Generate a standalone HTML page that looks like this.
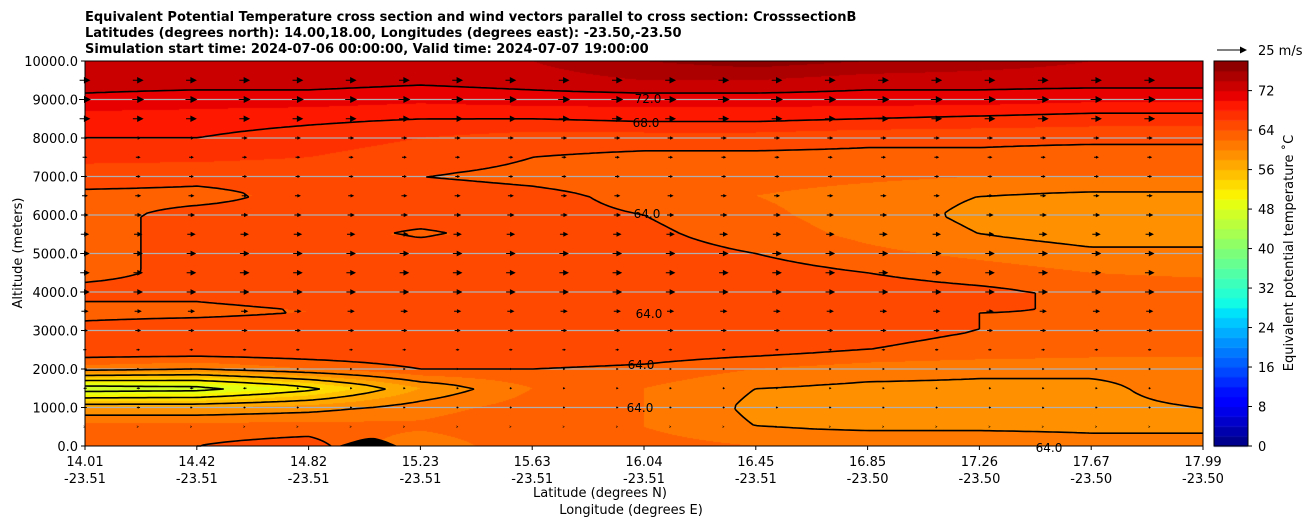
<!DOCTYPE html>
<html><head><meta charset="utf-8">
<style>
body{margin:0;background:#fff;width:1308px;height:526px;overflow:hidden;font-family:"DejaVu Sans","Liberation Sans",sans-serif;}
#wrap{position:relative;width:1308px;height:526px;}
canvas{position:absolute;left:0;top:0;}
svg{position:absolute;left:0;top:0;}
</style></head>
<body>
<div id="wrap">
<canvas id="cv" width="1308" height="526"></canvas>
<svg id="sv" width="1308" height="526"></svg>
</div>
<script>
// ---- data ----
const lats = [14.0,14.4,14.8,15.2,15.6,16.0,16.4,16.8,17.2,17.6,18.0];
const alts = [10000,9500,9000,8500,8000,7500,7000,6500,6000,5500,5000,4500,4000,3500,3000,2500,2000,1500,1000,500,0];
const theta = [
[72,72,73,74,74,76,77,76,75,74,74],
[73,73,73,72.5,73,74,74,73,73,73,73],
[71.5,71,71,70.5,71,71,71,71,71,70.5,70.5],
[69,69,68.5,68,68,68.5,68.5,68,67.5,67,67],
[68,68,67,66,65,65,65,64.5,64.5,64.5,64.5],
[66.5,66.5,66,65,64,63.5,63.5,63.5,63.5,63,63],
[65,64.5,64.5,64,63.5,63,63,62.5,62,62,62],
[63.5,63.5,64.5,65,64.5,63.5,62,61,60,59.5,59.5],
[63.5,64.5,64.5,64.5,64.5,64,62.5,61,59.5,59,59],
[63.5,64.5,64.5,63.8,64.5,64.5,63,61.5,60,59,59],
[63.5,64.5,65,65,65,65,64,62.5,61.5,60.5,60.5],
[63.5,64.5,65,65,65.5,65.5,65,64,63,62,61.5],
[64.5,64.5,65,65,66,66,65.5,65,64.5,63.5,63.5],
[63.5,63.5,64,64,64,64.5,64.5,64,64,64,64],
[64.5,65,65,65,65,65,65,64.5,64,63.5,63.5],
[66,66,66,66,66,65.5,65,64,63.5,63,63],
[61,60,62,64,64,63.5,62,61,60.5,60.5,60.5],
[46,46.5,51,58,62,62,60,59.5,59.5,59.5,61],
[58,58,59,61,63,62,59.5,59.5,59.5,59.5,60],
[63,63,63,62.5,64,62,60,59.5,59.5,59.5,59.5],
[63,64,65,60,64,63,62,62,62,61,61]];
const contourLevels = [48,52,56,60,64,68,72];
const windAlts = [9500,9000,8500,8000,7500,7000,6500,6000,5500,5000,4500,4000,3500,3000,2500,2000,1500,1000,500];
const windSpeed = [9,10,9,5,4,4,5,6,7,8,8,8,6,5,3,2,2,2,1];
const reversedWind = [[1500,14.01],[1500,14.2],[1500,14.4],[1500,14.6],[2000,14.01],[1000,14.01],[1000,14.2]];
const xTickLat = ["14.01","14.42","14.82","15.23","15.63","16.04","16.45","16.85","17.26","17.67","17.99"];
const xTickLon = ["-23.51","-23.51","-23.51","-23.51","-23.51","-23.51","-23.51","-23.50","-23.50","-23.50","-23.50"];
const yTicks = [0,1000,2000,3000,4000,5000,6000,7000,8000,9000,10000];
const cbTicks = [0,8,16,24,32,40,48,56,64,72];

// ---- geometry ----
const X0=85,X1=1203,Y0=61,Y1=446, LAT0=14.0, LAT1=18.0, VMAX=78;
const xs = la => X0 + (la-LAT0)/(LAT1-LAT0)*(X1-X0);
const ys = a => Y1 - a/10000*(Y1-Y0);
const CB={x:1214,w:34};
const cbY = v => Y1 - v/VMAX*(Y1-Y0);

function seg(pts,t){for(let i=0;i<pts.length-1;i++){const a=pts[i],b=pts[i+1];if(t<=b[0]){return a[1]+(b[1]-a[1])*(t-a[0])/(b[0]-a[0]);}}return pts[pts.length-1][1];}
const JR=[[0,0],[0.35,0],[0.66,1],[0.89,1],[1,0.5]];
const JG=[[0,0],[0.125,0],[0.375,1],[0.64,1],[0.91,0],[1,0]];
const JB=[[0,0.5],[0.11,1],[0.34,1],[0.65,0],[1,0]];
function jet(t){return [Math.round(seg(JR,t)*255),Math.round(seg(JG,t)*255),Math.round(seg(JB,t)*255)];}
function binColor(v){let k=Math.floor(v/2);k=Math.max(0,Math.min(38,k));return jet((k+0.5)/39);}
function field(px,py){
 const fx=(px-X0)/(X1-X0)*(lats.length-1);
 const fy=(Y1-py)/(Y1-Y0)*(alts.length-1);
 let i=Math.max(0,Math.min(lats.length-2,Math.floor(fx)));
 let jb=Math.max(0,Math.min(alts.length-2,Math.floor(fy)));
 const tx=Math.max(0,Math.min(1,fx-i)), ty=Math.max(0,Math.min(1,fy-jb));
 const r0=alts.length-1-jb, r1=r0-1;
 const a=theta[r0][i]*(1-tx)+theta[r0][i+1]*tx;
 const b=theta[r1][i]*(1-tx)+theta[r1][i+1]*tx;
 return a*(1-ty)+b*ty;
}
// ---- fill ----
const ctx=document.getElementById('cv').getContext('2d');
const W=X1-X0,H=Y1-Y0;
const img=ctx.createImageData(W,H);
for(let y=0;y<H;y++)for(let x=0;x<W;x++){
 const c=binColor(field(X0+x+0.5,Y0+y+0.5));const o=(y*W+x)*4;
 img.data[o]=c[0];img.data[o+1]=c[1];img.data[o+2]=c[2];img.data[o+3]=255;}
ctx.putImageData(img,X0,Y0);
for(let k=0;k<39;k++){const c=jet((k+0.5)/39);ctx.fillStyle=`rgb(${c})`;
 const yt=cbY(Math.min(VMAX,(k+1)*2)),yb=cbY(k*2);ctx.fillRect(CB.x,yt,CB.w,yb-yt+0.5);}

// ---- svg overlay ----
const NS='http://www.w3.org/2000/svg', sv=document.getElementById('sv');
function mk(tag,attrs,parent){const e=document.createElementNS(NS,tag);for(const k in attrs)e.setAttribute(k,attrs[k]);(parent||sv).appendChild(e);return e;}
const grid=mk('g',{});


yTicks.forEach(a=>{if(a>0&&a<10000)mk('line',{x1:X0,x2:X1,y1:ys(a),y2:ys(a),stroke:'#b0b0b0','stroke-width':1.2},grid);});
const terr=mk('path',{d:`M338,446 C355,441 365,437 375,438 C385,440 392,444 398,446 Z`,fill:'#000'});


const cg=mk('g',{fill:'none',stroke:'#000','stroke-width':1.6});


const S=4,nx=Math.ceil(W/S)+1,ny=Math.ceil(H/S)+1,F=[];
for(let j=0;j<ny;j++){F.push([]);for(let i=0;i<nx;i++)F[j].push(field(X0+Math.min(W,i*S),Y0+Math.min(H,j*S)));}
contourLevels.forEach(L=>{let d='';
 for(let j=0;j<ny-1;j++)for(let i=0;i<nx-1;i++){
  const v=[F[j][i],F[j][i+1],F[j+1][i+1],F[j+1][i]];
  const p=[[i,j],[i+1,j],[i+1,j+1],[i,j+1]];const pts=[];
  for(let e=0;e<4;e++){const a=v[e],b=v[(e+1)%4];
   if((a<L)!==(b<L)){const t=(L-a)/(b-a);const pa=p[e],pb=p[(e+1)%4];
    pts.push([X0+Math.min(W,(pa[0]+(pb[0]-pa[0])*t)*S),Y0+Math.min(H,(pa[1]+(pb[1]-pa[1])*t)*S)]);}}
  if(pts.length>=2)d+=`M${pts[0][0].toFixed(1)},${pts[0][1].toFixed(1)}L${pts[1][0].toFixed(1)},${pts[1][1].toFixed(1)}`;
  if(pts.length===4)d+=`M${pts[2][0].toFixed(1)},${pts[2][1].toFixed(1)}L${pts[3][0].toFixed(1)},${pts[3][1].toFixed(1)}`;
 }
 const path=mk('path',{d:d},cg);
 
 
});
const ag=mk('g',{fill:'#000'});


const pxPerMs=30/25;
function arrow(x,y,u,parent){
 const len=Math.abs(u)*pxPerMs, s=Math.sign(u)||1;
 const hl=Math.min(7,Math.max(2,len*0.6)), hw=Math.min(3.5,Math.max(1.2,len*0.3));
 const tip=x+s*len/2, tail=x-s*len/2, hb=tip-s*hl;
 return mk('path',{d:`M${tail},${y-0.5}L${hb},${y-0.5}L${hb},${y-hw}L${tip},${y}L${hb},${y+hw}L${hb},${y+0.5}L${tail},${y+0.5}Z`},parent);
}
windAlts.forEach((a,ri)=>{
 for(let k=0;k<=20;k++){
  const x=X0+k*(W/21);
  let u=windSpeed[ri];
  if(reversedWind.some(r=>r[0]===a&&Math.abs(r[1]-(LAT0+(x-X0)/W*4))<0.12))u=-u*1.5;
  if(k===0&&a<=2000&&a>=1000)u=-3;
  const el=arrow(x,ys(a),u,ag);
  
  
 }
});
const fr=mk('rect',{x:X0,y:Y0,width:W,height:H,fill:'none',stroke:'#000','stroke-width':1});


const cbf=mk('rect',{x:CB.x,y:Y0,width:CB.w,height:H,fill:'none',stroke:'#000','stroke-width':1});


function txt(s,x,y,attrs,name){const t=mk('text',Object.assign({x:x,y:y,'font-size':13,fill:'#000','font-family':'DejaVu Sans, Liberation Sans, sans-serif'},attrs||{}));t.textContent=s;
 
 return t;}
yTicks.forEach(a=>{mk('line',{x1:X0-4,x2:X0,y1:ys(a),y2:ys(a),stroke:'#000'});
 txt(a.toFixed(1),X0-7,ys(a)+5,{'text-anchor':'end'},'y-tick-label');});
xTickLat.forEach((l,i)=>{const x=X0+i*W/10;mk('line',{x1:x,x2:x,y1:Y1,y2:Y1+4,stroke:'#000'});
 txt(l,x,466,{'text-anchor':'middle'},'x-tick-label');txt(xTickLon[i],x,483,{'text-anchor':'middle'},'x-tick-label-lon');});
cbTicks.forEach(v=>{mk('line',{x1:CB.x+CB.w,x2:CB.x+CB.w+4,y1:cbY(v),y2:cbY(v),stroke:'#000'});
 txt(String(v),1258,cbY(v)+5,{},'colorbar-tick-label');});
txt('Latitude (degrees N)',600,497,{'text-anchor':'middle'},'x-axis-title');
txt('Longitude (degrees E)',631,514,{'text-anchor':'middle'},'x-axis-title-lon');
txt('Altitude (meters)',22,253,{'text-anchor':'middle',transform:'rotate(-90 22 253)'},'y-axis-title');
txt('Equivalent potential temperature \u02DAC',1293,253,{'text-anchor':'middle',transform:'rotate(-90 1293 253)'},'colorbar-title');
txt('Equivalent Potential Temperature cross section and wind vectors parallel to cross section: CrosssectionB',85,21,{'font-weight':'bold'},'title-line-1');
txt('Latitudes (degrees north): 14.00,18.00, Longitudes (degrees east): -23.50,-23.50',85,37,{'font-weight':'bold'},'title-line-2');
txt('Simulation start time: 2024-07-06 00:00:00, Valid time: 2024-07-07 19:00:00',85,53,{'font-weight':'bold'},'title-line-3');
const qk=arrow(1232,50,25,sv);


txt('25 m/s',1258,55,{},'quiver-key-label');
[['72.0',648,99],['68.0',646,123],['64.0',647,214],['64.0',649,314],['64.0',641,365],['64.0',640,408],['64.0',1049,448]].forEach(l=>{
 txt(l[0],l[1],l[2]+4,{'font-size':12,'text-anchor':'middle'},'contour-label');});
</script>
</body></html>
